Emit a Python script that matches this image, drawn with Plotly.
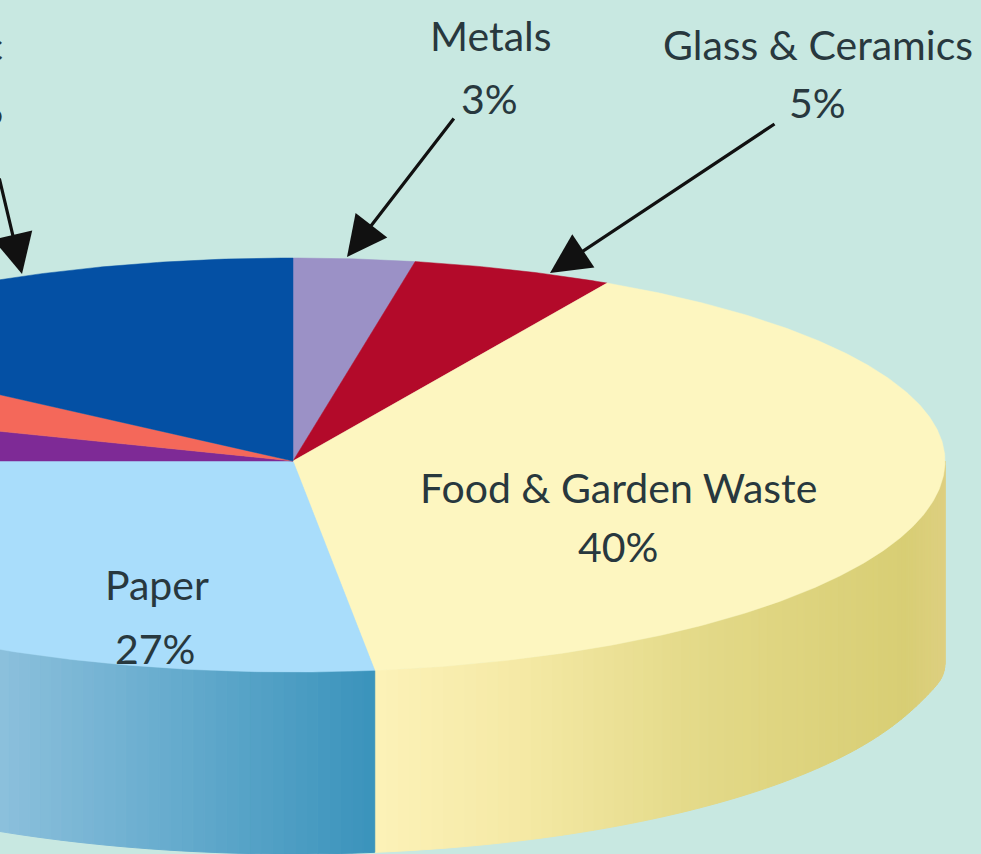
import math
import plotly.graph_objects as go

# Clockwise from 12 o'clock
categories = ["Metals", "Glass & Ceramics", "Food & Garden Waste", "Paper", "Other", "Textiles", "Plastic"]
values = [3, 5, 40, 27, 5, 5, 15]
top_colors = ["#9b91c6", "#b30a2a", "#fdf6c0", "#a9ddfb", "#7e2a96", "#f4685a", "#0450a4"]
# wall gradient stops: (screen x, colour)
wall_stops = {
    "Food & Garden Waste": [(375, (252, 242, 184)), (520, (245, 233, 165)), (700, (227, 217, 136)),
                            (905, (216, 206, 116)), (945, (222, 207, 128))],
    "Paper": [(0, (140, 192, 220)), (200, (96, 168, 203)), (375, (58, 147, 187))],
}
label_lines = [("Metals", 490, 35, "center"), ("3%", 489, 98, "center"),
               ("Glass & Ceramics", 818, 44, "center"), ("5%", 817, 102, "center"),
               ("Food & Garden Waste", 618, 487, "center"), ("40%", 618, 546, "center"),
               ("Paper", 157, 584, "center"), ("27%", 155, 648, "center"),
               ("Plastic", 5, 45, "right"), ("15%", 5, 108, "right")]
arrows = [(347, 257, 455, 117), (550, 273, 776, 123), (22, 274, -1, 177)]

CX, CY, RX, RY_TOP, RY_BOT, DEPTH = 293, 461, 652, 203, 211, 182
BG = "#c8e8e1"
INK = "#28383e"


def point(deg):
    a = math.radians(deg)
    s, c = math.sin(a), math.cos(a)
    return CX + RX * s, CY - (RY_TOP if c > 0 else RY_BOT) * c


def arc(a0, a1):
    n = max(2, int(abs(a1 - a0) / 0.5))
    return [point(a0 + (a1 - a0) * i / n) for i in range(n + 1)]


def grad(stops, x):
    if x <= stops[0][0]:
        return stops[0][1]
    for (x0, c0), (x1, c1) in zip(stops, stops[1:]):
        if x <= x1:
            t = (x - x0) / (x1 - x0)
            return tuple(c0[i] + (c1[i] - c0[i]) * t for i in range(3))
    return stops[-1][1]


def depth(deg):
    s = max(0.0, math.sin(math.radians(deg)))
    return DEPTH + 18 * s ** 60


def poly(pts, color, width=0):
    xs = [p[0] for p in pts] + [pts[0][0]]
    ys = [p[1] for p in pts] + [pts[0][1]]
    return go.Scatter(x=xs, y=ys, mode="lines", fill="toself", fillcolor=color,
                      line=dict(color=color, width=width), hoverinfo="skip", showlegend=False)


fig = go.Figure()
start = 0.0
for name, v, col in zip(categories, values, top_colors):
    end = start + v * 3.6
    lo, hi = max(start, 90), min(end, 270)
    if hi > lo and name in wall_stops:
        n = int((hi - lo) / 1.0)
        for i in range(n):
            a0 = lo + (hi - lo) * i / n
            a1 = lo + (hi - lo) * (i + 1) / n
            p0, p1 = point(a0), point(a1)
            r, g, b = grad(wall_stops[name], (p0[0] + p1[0]) / 2)
            c = f"rgb({r:.0f},{g:.0f},{b:.0f})"
            fig.add_trace(poly([p0, p1, (p1[0], p1[1] + depth(a1)), (p0[0], p0[1] + depth(a0))], c, 1))
    start = end

start = 0.0
for name, v, col in zip(categories, values, top_colors):
    end = start + v * 3.6
    fig.add_trace(poly([(CX, CY)] + arc(start, end), col, 0.5))
    start = end

for text, x, y, anchor in label_lines:
    fig.add_annotation(x=x, y=y, text=text, showarrow=False, xref="x", yref="y", xanchor=anchor,
                       font=dict(family="Lato", size=41, color=INK))
for tx, ty, sx, sy in arrows:
    fig.add_annotation(x=tx, y=ty, ax=sx, ay=sy, xref="x", yref="y", axref="x", ayref="y", text="",
                       showarrow=True, arrowhead=2, arrowsize=2.5, arrowwidth=3.2, arrowcolor="#111111")

fig.update_xaxes(range=[0, 981], visible=False, fixedrange=True)
fig.update_yaxes(range=[854, 0], visible=False, fixedrange=True)
fig.update_layout(width=981, height=854, margin=dict(l=0, r=0, t=0, b=0),
                  paper_bgcolor=BG, plot_bgcolor=BG, showlegend=False)
fig.write_html("out.html", config={"displayModeBar": False},
               post_script="document.body.style.margin='0';document.body.style.overflow='hidden';")
